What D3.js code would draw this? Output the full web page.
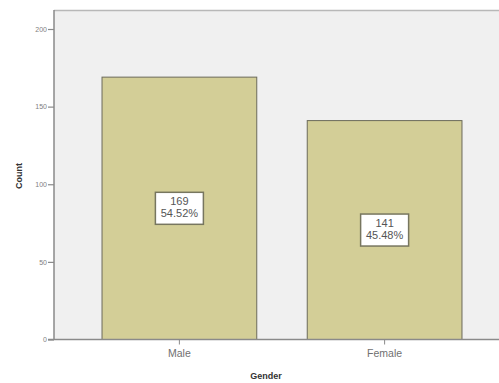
<!DOCTYPE html>
<html>
<head>
<meta charset="utf-8">
<script src="https://cdn.jsdelivr.net/npm/d3@7"></script>
<style>
    body { margin: 0; background: #fff; }
    svg { display: block; font-family: Arial, "Liberation Sans", sans-serif; }
</style>
</head>
<body>
<svg id="chart" width="499" height="383"></svg>
<script>
const categories = ["Male", "Female"];
const counts = [169, 141];
const percents = ["54.52%", "45.48%"];
const yTicks = [0, 50, 100, 150, 200];

const chart = {
    svg: d3.select("#chart"),

    plot: { left: 54, right: 510, top: 10, bottom: 339.5 },

    scales: { x: null, y: null },

    setScales() {
        this.scales.x = d3.scaleBand(categories, [this.plot.left, this.plot.right])
            .paddingInner(0.246)
            .paddingOuter(0.234);
        this.scales.y = d3.scaleLinear([0, 200], [this.plot.bottom, 29]);
    },

    drawFrame() {
        const p = this.plot;
        this.svg.append("rect")
            .attr("x", p.left).attr("y", p.top)
            .attr("width", p.right - p.left).attr("height", p.bottom - p.top)
            .attr("fill", "#f0f0f0");

        // top edge of the plot area
        this.svg.append("line")
            .attr("x1", p.left).attr("x2", p.right)
            .attr("y1", p.top + 0.5).attr("y2", p.top + 0.5)
            .attr("stroke", "#b8b8b8").attr("stroke-width", 1.5);
    },

    drawBars() {
        const x = this.scales.x, y = this.scales.y;
        const data = categories.map((c, i) => ({ cat: c, count: counts[i], pct: percents[i] }));

        this.svg.append("g").selectAll("rect")
            .data(data)
            .join("rect")
            .attr("x", d => x(d.cat))
            .attr("y", d => y(d.count))
            .attr("width", x.bandwidth())
            .attr("height", d => y(0) - y(d.count))
            .attr("fill", "#d3ce97")
            .attr("stroke", "#6b6a5a")
            .attr("stroke-width", 1);

        const labels = this.svg.append("g").selectAll("g")
            .data(data)
            .join("g")
            .attr("transform", d => `translate(${x(d.cat) + x.bandwidth() / 2}, ${(y(d.count) + y(0)) / 2})`);

        labels.append("rect")
            .attr("x", -24).attr("y", -16)
            .attr("width", 48).attr("height", 32)
            .attr("fill", "#fff")
            .attr("stroke", "#77765f")
            .attr("stroke-width", 1.5);

        labels.append("text")
            .attr("text-anchor", "middle")
            .attr("y", -3)
            .attr("font-size", 11)
            .attr("fill", "#555")
            .text(d => d.count);

        labels.append("text")
            .attr("text-anchor", "middle")
            .attr("y", 9)
            .attr("font-size", 11)
            .attr("fill", "#555")
            .text(d => d.pct);
    },

    drawAxes() {
        const p = this.plot;
        const yAxis = d3.axisLeft(this.scales.y)
            .tickValues(yTicks)
            .tickSize(6)
            .tickPadding(1);

        const gy = this.svg.append("g")
            .attr("transform", `translate(${p.left}, 0)`)
            .call(yAxis);
        gy.select(".domain").attr("stroke", "#8a8a8a").attr("stroke-width", 1.5)
            .attr("d", `M0,${p.top}V${p.bottom}`);
        gy.selectAll(".tick line").attr("stroke", "#8a8a8a").attr("stroke-width", 1.2);
        gy.selectAll(".tick text").attr("font-size", 7).attr("fill", "#808080")
            .attr("font-family", "Arial, 'Liberation Sans', sans-serif");

        const xAxis = d3.axisBottom(this.scales.x)
            .tickSize(5)
            .tickPadding(5);

        const gx = this.svg.append("g")
            .attr("transform", `translate(0, ${p.bottom})`)
            .call(xAxis);
        gx.select(".domain").attr("stroke", "#8a8a8a").attr("stroke-width", 1.5)
            .attr("d", `M${p.left - 6},0H${p.right}`);
        gx.selectAll(".tick line").attr("stroke", "#8a8a8a");
        gx.selectAll(".tick text").attr("font-size", 10.5).attr("fill", "#707070")
            .attr("font-family", "Arial, 'Liberation Sans', sans-serif");

        this.svg.append("text")
            .attr("x", 266).attr("y", 379)
            .attr("text-anchor", "middle")
            .attr("font-size", 9).attr("font-weight", "bold").attr("fill", "#333")
            .text("Gender");

        this.svg.append("text")
            .attr("transform", "translate(22, 176) rotate(-90)")
            .attr("text-anchor", "middle")
            .attr("font-size", 9).attr("font-weight", "bold").attr("fill", "#333")
            .text("Count");
    },

    driver() {
        this.setScales();
        this.drawFrame();
        this.drawBars();
        this.drawAxes();
    }
};

chart.driver();
</script>
</body>
</html>
